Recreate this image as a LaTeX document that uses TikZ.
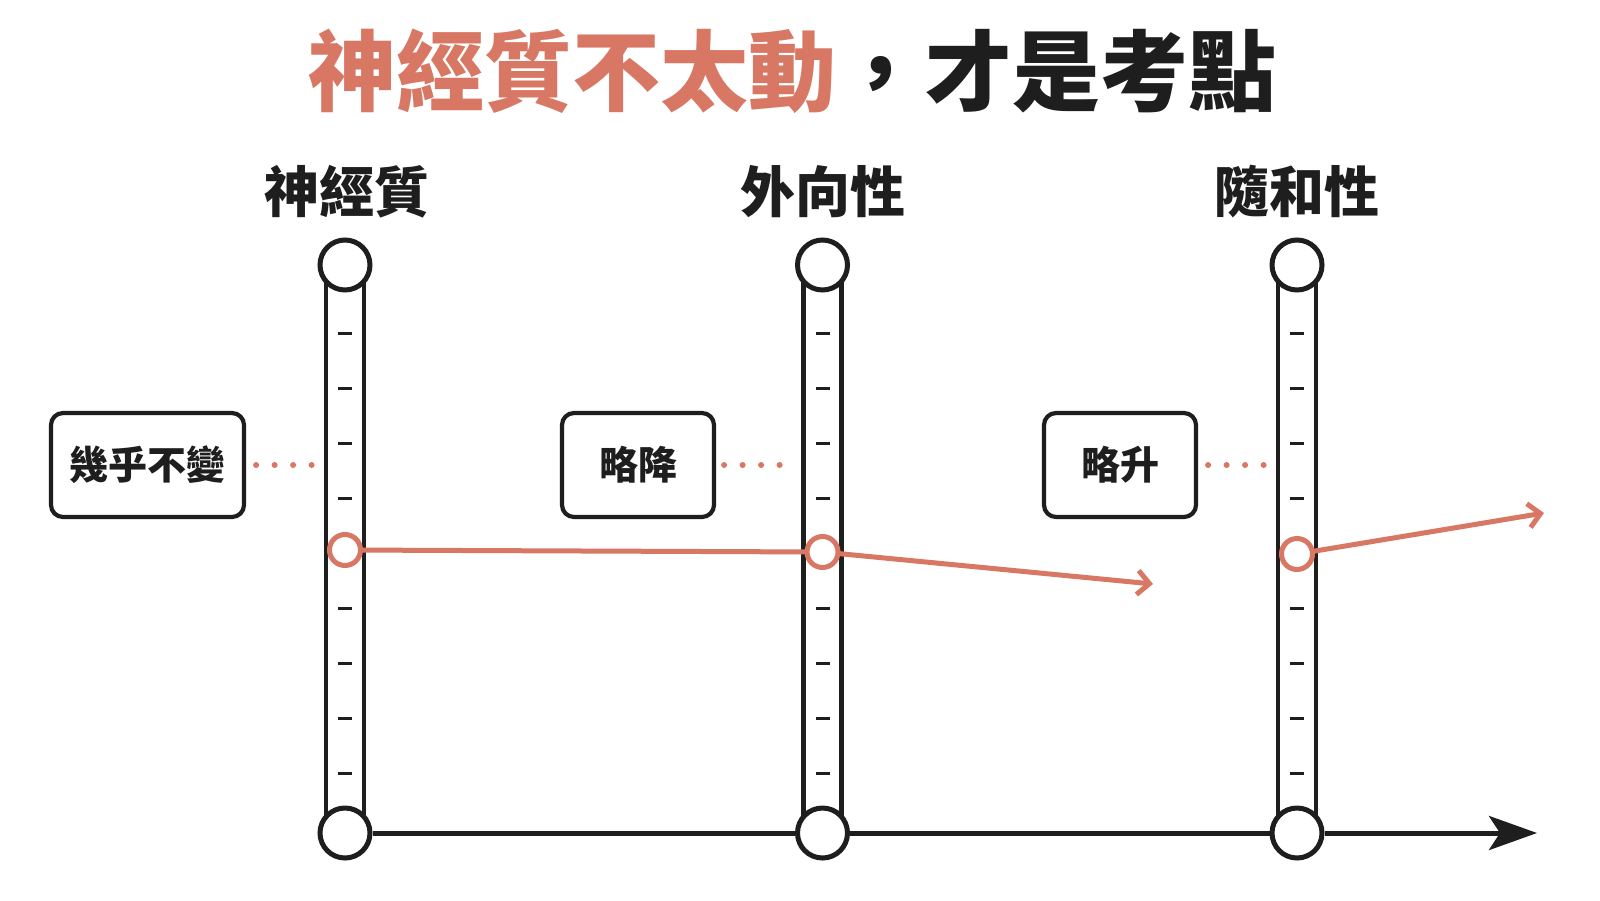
\documentclass[tikz,border=0pt]{standalone}
\usepackage{fontspec}
\usetikzlibrary{arrows.meta}
\newfontfamily\cjk{Noto Sans CJK TC}
\newfontfamily\cjkblack{Noto Sans CJK TC}[UprightFont={* Black}]
\definecolor{accent}{RGB}{216,120,100}
\definecolor{ink}{RGB}{30,30,30}
\begin{document}
\begin{tikzpicture}[x=1pt,y=-1pt,
  endcirc/.style={circle,draw=ink,line width=5pt,fill=white,minimum size=50pt,inner sep=0pt},
  redcirc/.style={circle,draw=accent,line width=5pt,fill=white,minimum size=31pt,inner sep=0pt},
  tube/.style={draw=ink,line width=4.6pt},
  tick/.style={draw=ink,line width=3.2pt},
  labelbox/.style={draw=ink,line width=4.2pt,rounded corners=12pt,fill=white,minimum height=104pt,font=\cjkblack\fontsize{39}{39}\selectfont,text=ink},
  header/.style={font=\cjkblack\fontsize{55}{55}\selectfont,text=ink},
  redline/.style={draw=accent,line width=5pt},
  dots/.style={draw=accent,line width=6pt,line cap=round,dash pattern=on 0pt off 18.5pt},
]
\useasboundingbox (0,0) rectangle (1600,900);
\fill[white] (0,0) rectangle (1600,900);

% title
\node (title) at (792,71) {\cjkblack\fontsize{88}{88}\selectfont\textcolor{accent}{神經質不太動}\textcolor{ink}{，才是考點}};

% headers
\node[header] (h1) at (347,192) {神經質};
\node[header] (h2) at (823,192) {外向性};
\node[header] (h3) at (1297,192) {隨和性};

% tubes
\foreach \x in {345,822.5,1297}{
  \fill[white] (\x-19,265) rectangle (\x+19,833);
  \draw[tube] (\x-19,265) -- (\x-19,833);
  \draw[tube] (\x+19,265) -- (\x+19,833);
  \foreach \k in {0,1,2,3,5,6,7,8}{
    \draw[tick] (\x-7,333.7+54.95*\k) -- (\x+7,333.7+54.95*\k);
  }
}

% axis
\node[endcirc] (b1) at (345,833) {};
\node[endcirc] (b2) at (822.5,833) {};
\node[endcirc] (b3) at (1297,833) {};
\coordinate (ax) at (1537,833);
\draw[ink,line width=5pt] (b1) -- (b2);
\draw[ink,line width=5pt] (b2) -- (b3);
\draw[ink,line width=5pt,-{Stealth[length=48pt,width=34pt,inset=11pt]}] (b3) -- (ax);

% top circles
\node[endcirc] (t1) at (345,265) {};
\node[endcirc] (t2) at (822.5,265) {};
\node[endcirc] (t3) at (1297,265) {};

% red trajectory
\coordinate (e2) at (1153,584);
\coordinate (e3) at (1544,513);
\draw[redline] (345,550) -- (822.5,552);
\draw[redline,-{Straight Barb[length=12pt,width=24pt,line width=5pt]}] (822.5,552) -- (e2);
\draw[redline,-{Straight Barb[length=12pt,width=24pt,line width=5pt]}] (1297,554) -- (e3);
\node[redcirc] (r1) at (345,550) {};
\node[redcirc] (r2) at (822.5,552) {};
\node[redcirc] (r3) at (1297,554) {};

% label boxes
\node[labelbox,minimum width=193pt] (l1) at (147.5,465) {幾乎不變};
\node[labelbox,minimum width=152pt] (l2) at (638,465) {略降};
\node[labelbox,minimum width=152pt] (l3) at (1120,465) {略升};
\coordinate (d1) at (312,465);
\coordinate (d2) at (792,465);
\coordinate (d3) at (1265,465);
\draw[dots] ([xshift=10pt]l1.east) -- (d1);
\draw[dots] ([xshift=8pt]l2.east) -- (d2);
\draw[dots] ([xshift=10pt]l3.east) -- (d3);
\end{tikzpicture}
\end{document}
